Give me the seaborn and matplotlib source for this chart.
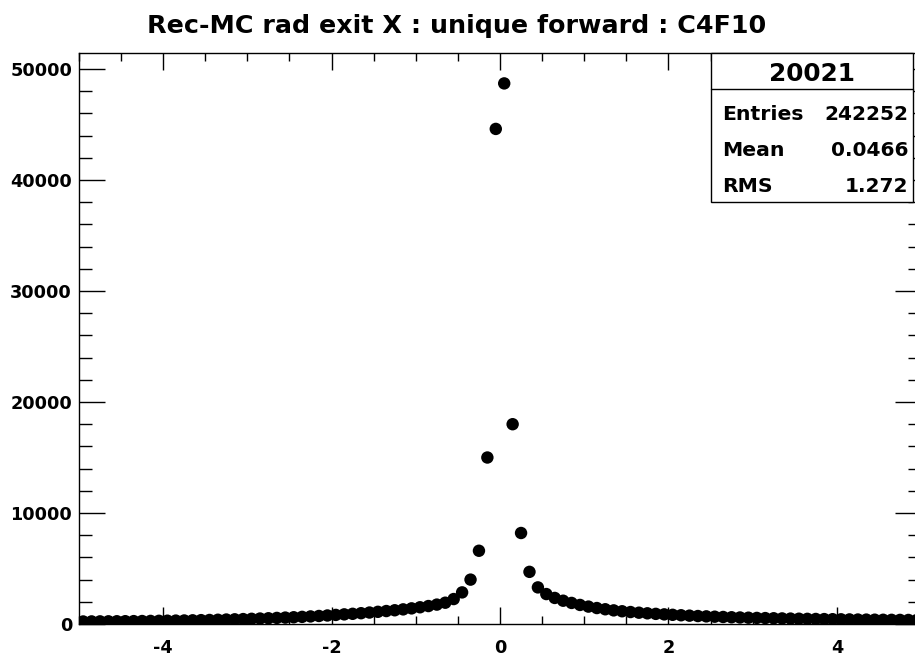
import numpy as np
import pandas as pd
import matplotlib
matplotlib.use("Agg")
import matplotlib.pyplot as plt
import seaborn as sns
from matplotlib.ticker import MultipleLocator
from matplotlib.patches import Rectangle
from matplotlib.lines import Line2D

# histogram 20021 : 100 bins from -5 to 5
bin_edges = np.linspace(-5, 5, 101)
counts_neg = [230, 235, 240, 245, 250, 255, 262, 270, 280, 290,
              300, 310, 320, 335, 350, 365, 385, 405, 425, 445,
              470, 495, 520, 550, 580, 610, 645, 685, 725, 770,
              820, 870, 920, 975, 1035, 1100, 1170, 1240, 1320, 1410,
              1510, 1620, 1750, 1920, 2250, 2850, 4000, 6600, 15000, 44600]
counts_pos = [48700, 18000, 8200, 4700, 3300, 2700, 2350, 2100, 1900, 1720,
              1570, 1440, 1330, 1230, 1150, 1080, 1020, 965, 915, 870,
              830, 790, 755, 720, 690, 660, 635, 610, 590, 570,
              550, 535, 520, 505, 490, 478, 466, 455, 445, 435,
              425, 415, 405, 398, 390, 383, 377, 371, 366, 360]

title = "Rec-MC rad exit X : unique forward : C4F10"
stats_name = "20021"
stats_labels = ["Entries", "Mean", "RMS"]
stats_values = ["242252", "0.0466", "1.272"]

df = pd.DataFrame({
    "x": (bin_edges[:-1] + bin_edges[1:]) / 2,
    "count": counts_neg + counts_pos,
})

sns.set_style("white")
plt.rcParams['font.family'] = ['DejaVu Sans']
plt.rcParams['font.weight'] = 'bold'
plt.rcParams['axes.unicode_minus'] = False
plt.rcParams['text.color'] = 'black'
plt.rcParams['xtick.color'] = 'black'
plt.rcParams['ytick.color'] = 'black'

fig = plt.figure(figsize=(9.15, 6.64), dpi=100)
ax = fig.add_axes([0.0863, 0.0602, 0.9203, 0.86])

sns.scatterplot(data=df, x="x", y="count", ax=ax, color="black",
                s=80, edgecolor="none", linewidth=0, legend=False, zorder=3)

ax.set_xlim(-5, 5)
ax.set_ylim(0, 51440)
ax.set_xlabel("")
ax.set_ylabel("")

# ROOT style ticks
ax.xaxis.set_major_locator(MultipleLocator(2))
ax.xaxis.set_minor_locator(MultipleLocator(0.5))
ax.yaxis.set_major_locator(MultipleLocator(10000))
ax.yaxis.set_minor_locator(MultipleLocator(2000))
ax.tick_params(axis="x", which="major", direction="in", length=12, width=1,
               top=True, bottom=True, labelsize=12.7, pad=11, colors="black")
ax.tick_params(axis="x", which="minor", direction="in", length=6, width=1,
               top=True, bottom=True, colors="black")
ax.tick_params(axis="y", which="major", direction="in", length=19, width=1,
               left=True, right=True, labelsize=12.7, pad=5, colors="black")
ax.tick_params(axis="y", which="minor", direction="in", length=9.5, width=1,
               left=True, right=True, colors="black")
for lab in ax.get_xticklabels() + ax.get_yticklabels():
    lab.set_fontweight("bold")
for sp in ax.spines.values():
    sp.set_color("black")
    sp.set_linewidth(1.0)

fig.text(0.4995, 1 - 33 / 664, title, ha="center", va="baseline",
         fontsize=18.3, fontweight="bold", color="black")

# stats box
x0, x1 = 711 / 915, 913 / 915
y0, y1 = 1 - 202 / 664, 1 - 53 / 664
fig.patches.append(Rectangle((x0, y0), x1 - x0, y1 - y0, transform=fig.transFigure,
                             facecolor="white", edgecolor="black", linewidth=1.0, zorder=5))
fig.lines.append(Line2D([x0, x1], [1 - 89 / 664] * 2, transform=fig.transFigure,
                        color="black", linewidth=1.0, zorder=6))
fig.text((x0 + x1) / 2, 1 - 81 / 664, stats_name, ha="center", va="baseline",
         fontsize=17.8, fontweight="bold", color="black", zorder=7)
rows_y = [1 - 120 / 664, 1 - 156 / 664, 1 - 192 / 664]
for lab, val, yy in zip(stats_labels, stats_values, rows_y):
    fig.text(722 / 915, yy, lab, ha="left", va="baseline", fontsize=14.7,
             fontweight="bold", color="black", zorder=7)
    fig.text(908 / 915, yy, val, ha="right", va="baseline", fontsize=14.5,
             fontweight="bold", color="black", zorder=7)

fig.savefig("out.png", dpi=100)
